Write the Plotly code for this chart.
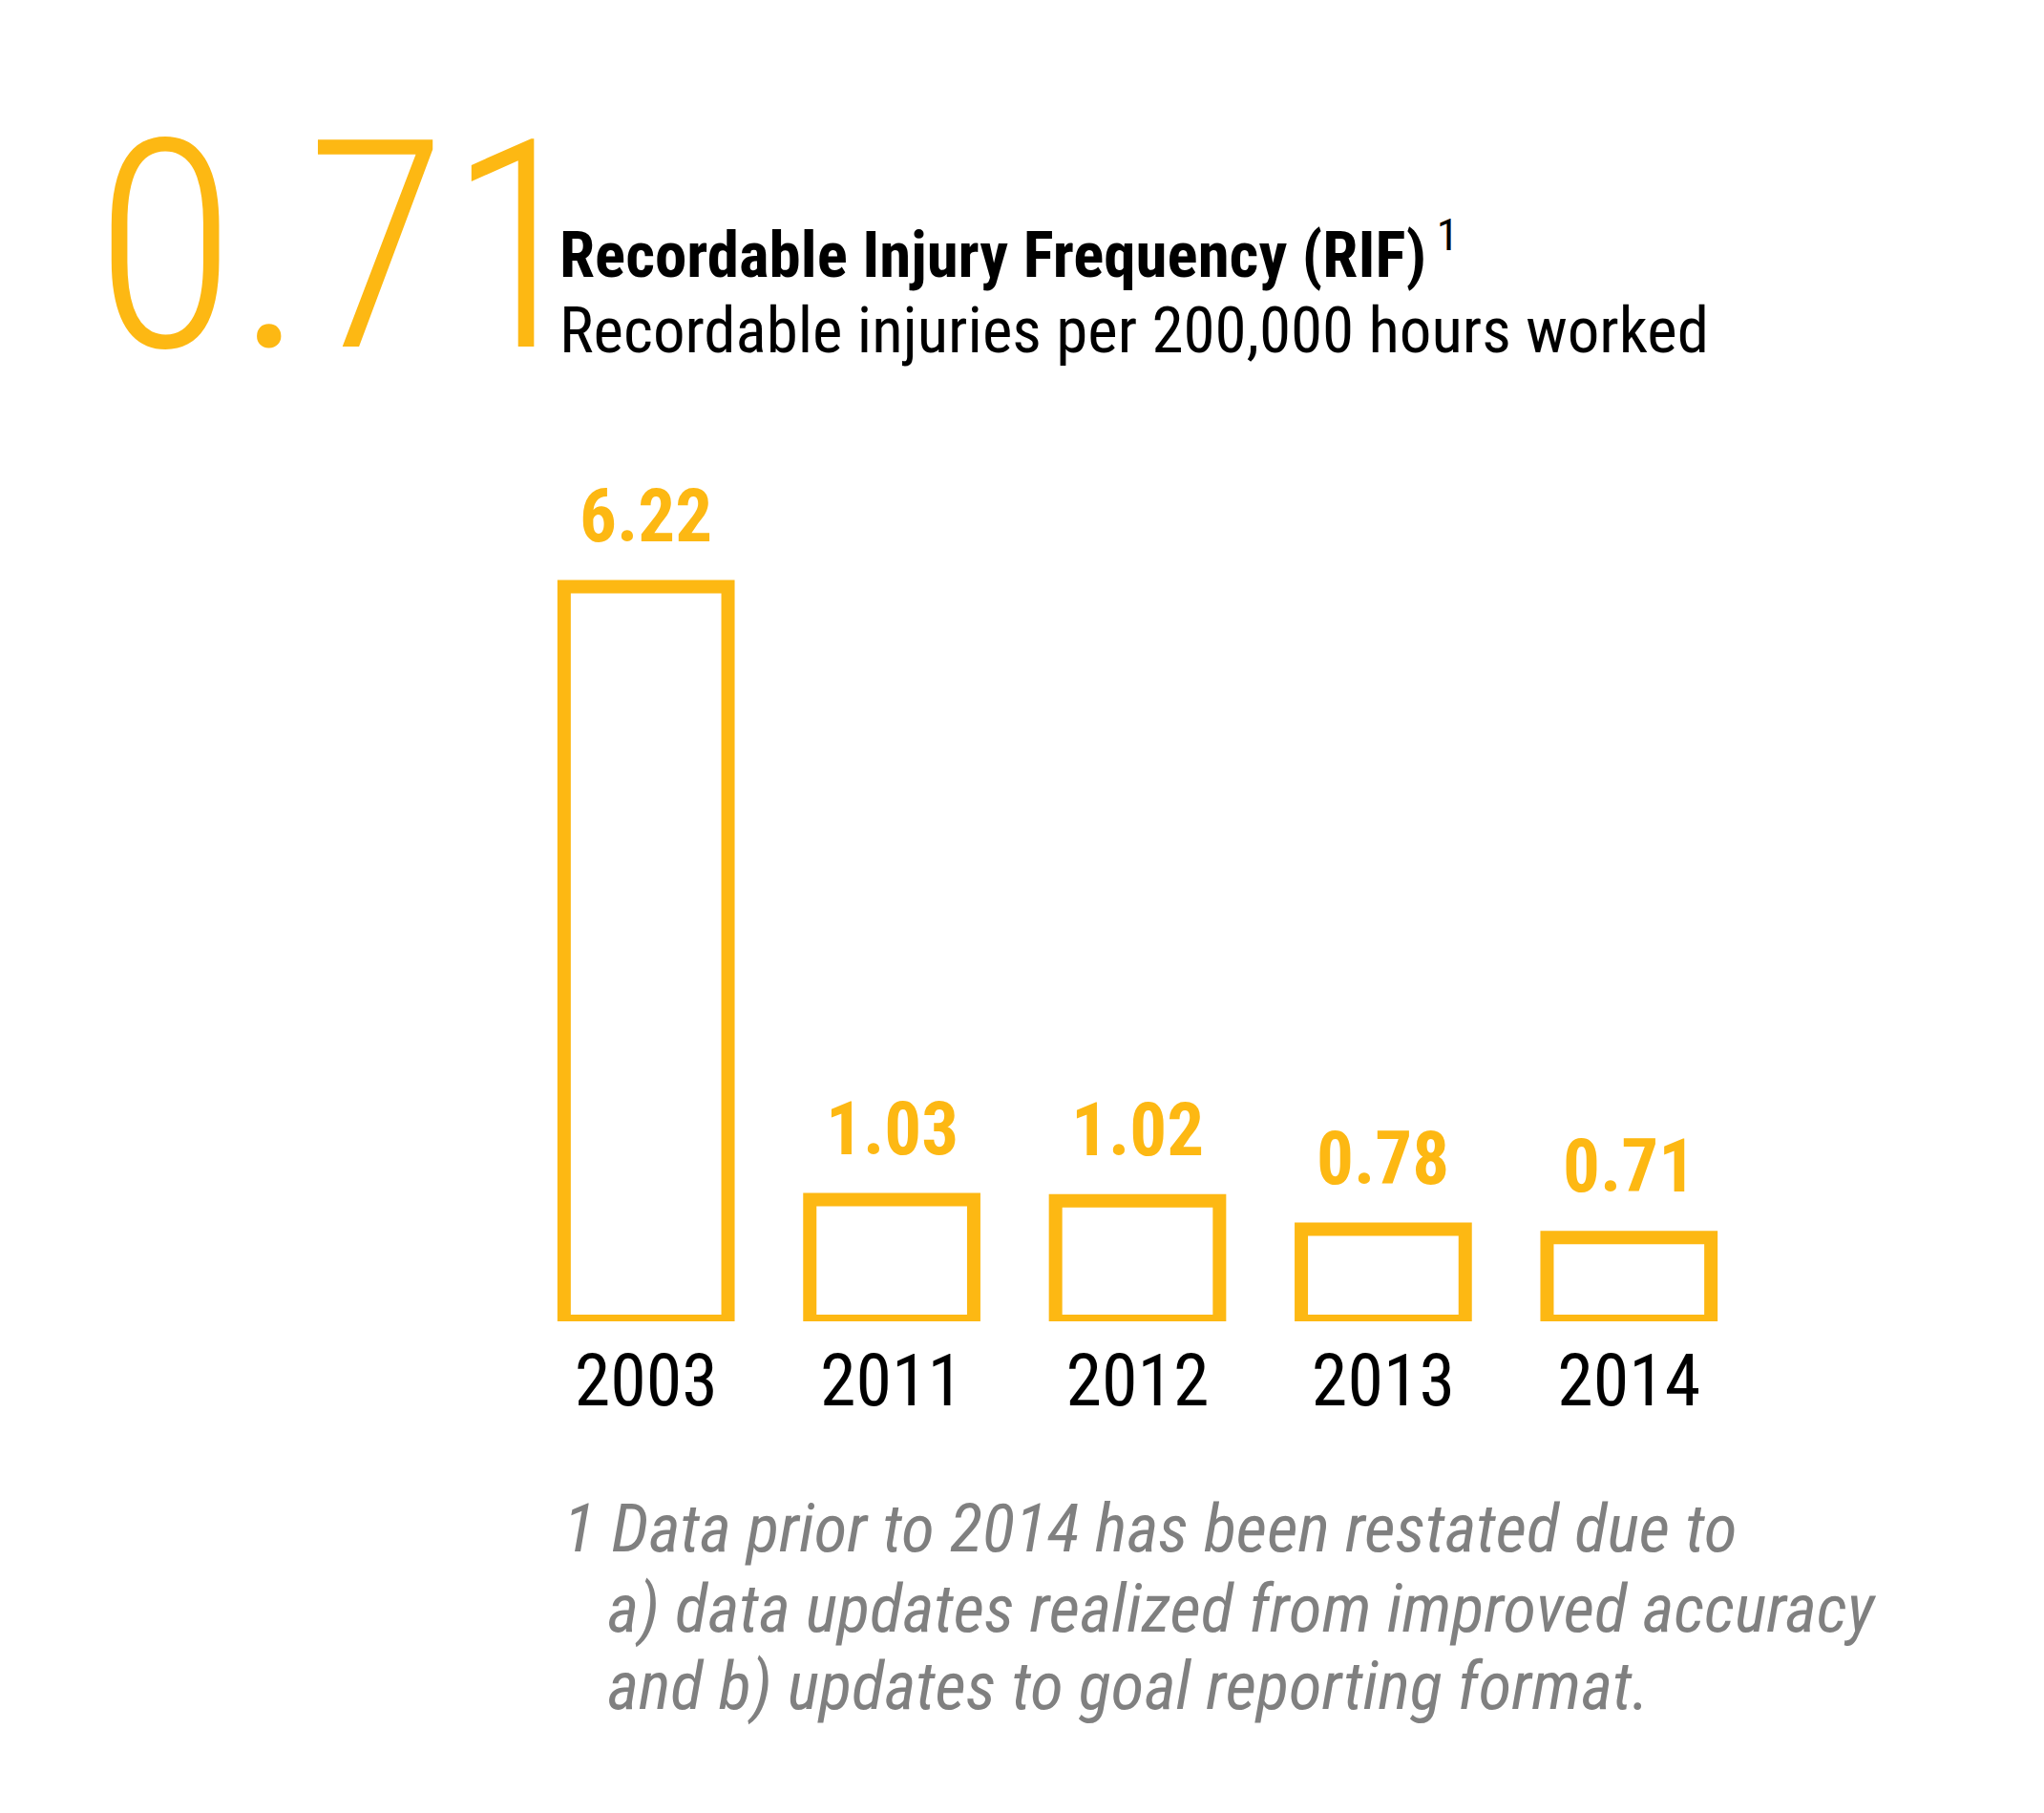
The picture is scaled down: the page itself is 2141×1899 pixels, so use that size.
import plotly.graph_objects as go

years = ["2003", "2011", "2012", "2013", "2014"]
rif = [6.22, 1.03, 1.02, 0.78, 0.71]
value_labels = ["6.22", "1.03", "1.02", "0.78", "0.71"]
headline = "0.71"
title = "Recordable Injury Frequency (RIF)"
subtitle = "Recordable injuries per 200,000 hours worked"
footnote = [
    "1 Data prior to 2014 has been restated due to",
    "a) data updates realized from improved accuracy",
    "and b) updates to goal reporting format.",
]

YELLOW = "#FDB813"
GRAY = "#808080"
FONT = "'Roboto Condensed', 'DejaVu Sans Condensed', sans-serif"

W, H = 2141, 1899
L, R, T, B = 540, 314, 510, 523
PW = W - L - R
PH = H - T - B


def px(x):
    return (x - L) / PW


def py(y):
    return (H - B - y) / PH


fig = go.Figure()
fig.add_trace(go.Bar(
    x=years, y=rif, width=0.667,
    marker=dict(color="white", line=dict(color=YELLOW, width=14)),
    hoverinfo="skip", cliponaxis=False,
))

for i, (v, lab) in enumerate(zip(rif, value_labels)):
    fig.add_annotation(x=i, y=v, xref="x", yref="y", text=f"<b>{lab}</b>",
                       showarrow=False, yanchor="bottom", yshift=27,
                       font=dict(family=FONT, size=77, color=YELLOW))

fig.add_annotation(x=px(89), y=py(251), xref="paper", yref="paper", text=headline,
                   showarrow=False, xanchor="left", yanchor="middle",
                   font=dict(family=FONT, size=305, color=YELLOW, weight=300))
fig.add_annotation(x=px(576), y=py(254), xref="paper", yref="paper",
                   text=f"<b>{title}</b><sup> 1</sup>",
                   showarrow=False, xanchor="left", yanchor="middle",
                   font=dict(family=FONT, size=67, color="black"))
fig.add_annotation(x=px(576), y=py(338), xref="paper", yref="paper", text=subtitle,
                   showarrow=False, xanchor="left", yanchor="middle",
                   font=dict(family=FONT, size=67, color="black"))

for (xx, yy), line in zip([(580, 1592), (626, 1676), (626, 1757)], footnote):
    fig.add_annotation(x=px(xx), y=py(yy), xref="paper", yref="paper",
                       text=f"<i>{line}</i>",
                       showarrow=False, xanchor="left", yanchor="middle",
                       font=dict(family=FONT, size=71, color=GRAY))

fig.update_layout(
    width=W, height=H,
    margin=dict(l=L, r=R, t=T, b=B),
    paper_bgcolor="white", plot_bgcolor="white",
    showlegend=False,
    xaxis=dict(type="category", range=[-0.5, 4.5], showgrid=False, zeroline=False,
               showline=False, ticks="",
               tickfont=dict(family=FONT, size=76, color="black"),
               ticklabelstandoff=11, fixedrange=True),
    yaxis=dict(range=[0, 7], visible=False, fixedrange=True),
)

fig.write_html("out.html")
